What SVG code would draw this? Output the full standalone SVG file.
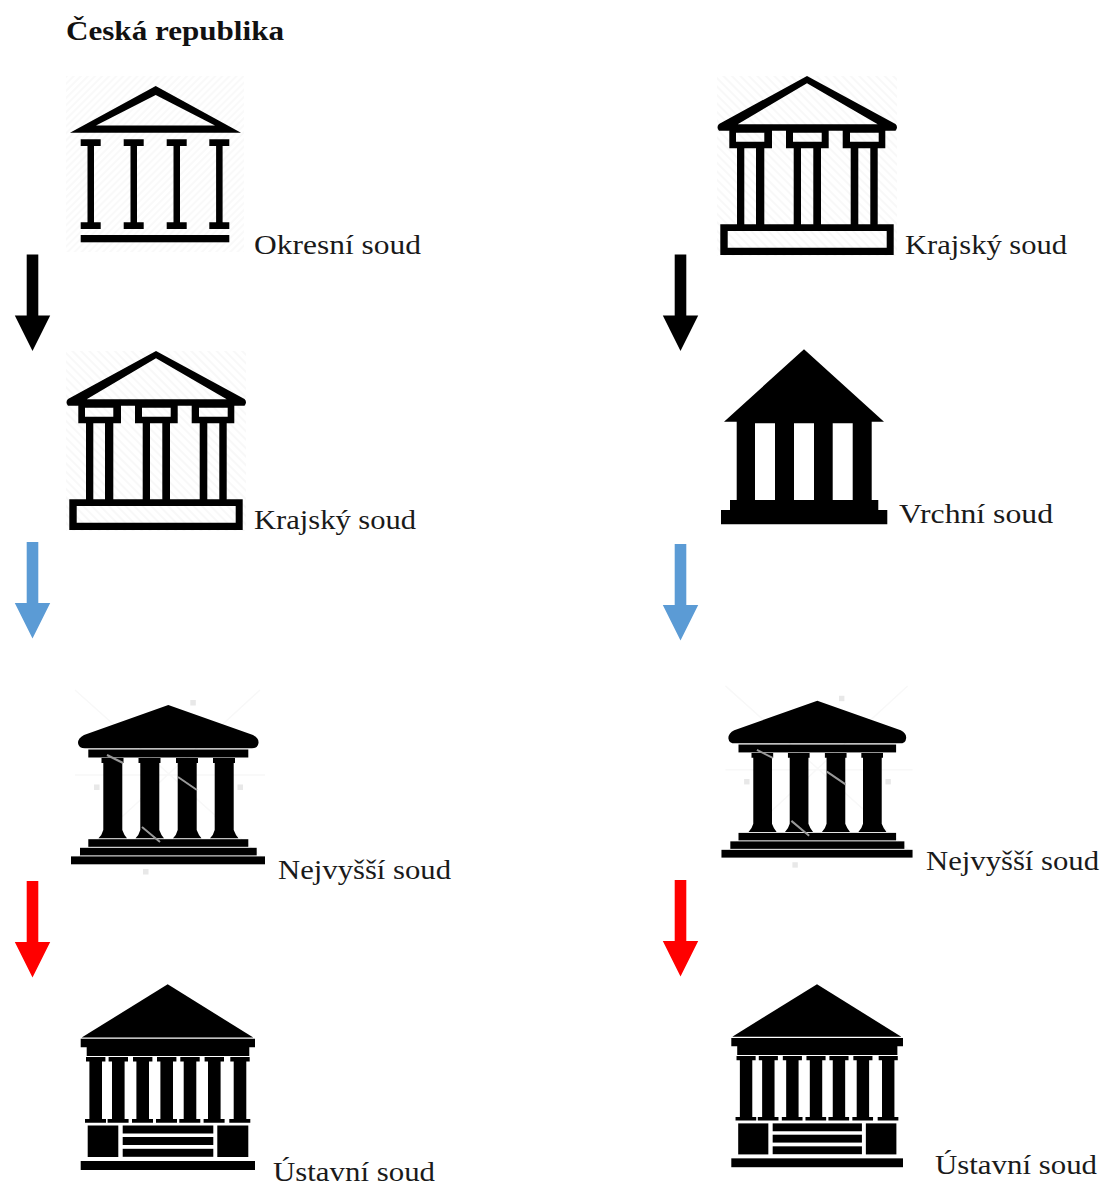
<svg xmlns="http://www.w3.org/2000/svg" xmlns:xlink="http://www.w3.org/1999/xlink" width="1105" height="1185" viewBox="0 0 1105 1185">
<style>
text{font-family:"Liberation Serif","Times New Roman",serif;font-size:28px;fill:#1a1a1a}
.title{font-weight:bold;fill:#111}
.soft{filter:url(#soft)}
.wm{fill:#e8e8e8}
.wl{stroke:#999;stroke-width:2;fill:none}
.wf{stroke:#f8f8f8;stroke-width:1.5;fill:none}
</style>
<defs>
<filter id="soft" x="-5%" y="-5%" width="110%" height="110%"><feGaussianBlur stdDeviation="0.55"/></filter>
<pattern id="hatch" width="5" height="5" patternUnits="userSpaceOnUse" patternTransform="rotate(45)"><rect width="5" height="5" fill="#fff"/><rect width="2" height="5" fill="#f9f9f9"/></pattern>
<pattern id="hatch2" width="6" height="6" patternUnits="userSpaceOnUse" patternTransform="rotate(-45)"><rect width="6" height="6" fill="#fff"/><rect width="2" height="6" fill="#f8f8f8"/></pattern>
<path id="arrow" d="M-5.800 0H5.800V61H17.700L0 96.500L-17.700 61H-5.800Z"/>
<g id="krajsky" class="soft">
<rect x="66" y="351" width="180" height="180" fill="url(#hatch2)"/>
<path fill-rule="evenodd" d="M156 351 L244.500 399 Q247.500 402 244.500 405.700 L68 405.700 Q65 402 68 399 Z M156 358.300 L86.700 399.300 H226.700 Z"/>
<path fill-rule="evenodd" d="M78.300 405H121V423.300H78.300Z M85 407.700V416.700H113.300V407.700Z M135 405H177.700V423.300H135Z M142 407.700V416.700H170.700V407.700Z M191.700 405H234.300V423.300H191.700Z M199 407.700V416.700H227.700V407.700Z"/>
<path d="M86 423H93.300V500H86Z M105 423H113.300V500H105Z M142.700 423H150V500H142.700Z M162.300 423H170V500H162.300Z M199.700 423H207.300V500H199.700Z M219.300 423H226.700V500H219.300Z"/>
<path fill-rule="evenodd" d="M69.300 499.300H242.700V530H69.300Z M76.700 506V522.700H235.700V506Z"/>
</g>
<g id="nejvyssi" class="soft">
<path class="wf" d="M75 690L265 860M260 690L75 860M75 775H265"/>
<rect class="wm" x="190.300" y="700" width="5.500" height="5.500"/><rect class="wm" x="94" y="784.500" width="5.500" height="5.500"/><rect class="wm" x="237.500" y="784.500" width="5.500" height="5.500"/><rect class="wm" x="143" y="869" width="5.500" height="5.500"/>
<path d="M168.300 705 L253 735 Q259 738 258.500 743 Q258 748.300 252 748.300 H85 Q78.500 748.300 78 743 Q78 738 84 735 Z"/>
<rect x="88.300" y="749.500" width="160" height="8"/>
<path d="M101.500 758H123.500V763H122.300V830Q124 835 127 838.300H98.500Q102 835 103.300 830V763H101.500Z"/>
<path d="M138.500 758H160.500V763H159.300V830Q161 835 164 838.300H135.500Q139 835 140.300 830V763H138.500Z"/>
<path d="M176 758H198V763H196.700V830Q198.500 835 201.500 838.300H173Q176.500 835 177.700 830V763H176Z"/>
<path d="M213 758H235V763H233.700V830Q235.500 835 238.500 838.300H210Q213.500 835 214.700 830V763H213Z"/>
<rect x="88.300" y="839.200" width="160" height="7.600"/><rect x="80" y="847.800" width="176.700" height="7.600"/><rect x="71" y="856.400" width="194" height="7.900"/>
<path class="wl" d="M107 755L123 763M178 777L197 790M142 827L160 842"/>
</g>
<g id="ustavni" class="soft">
<path d="M167.700 984.300L253.300 1037.500H81.700Z"/>
<path d="M80.700 1038.800H255V1047.300H249.300V1056H86.700V1047.300H80.700Z"/>
<path d="M86 1057H105.400V1061.500H102V1119H106V1122.700H85V1119H89.400V1061.500H86Z"/>
<path d="M108.600 1057H128V1061.500H124.600V1119H128.600V1122.700H107.600V1119H112V1061.500H108.600Z"/>
<path d="M133 1057H152.400V1061.500H149V1119H153V1122.700H132V1119H136.400V1061.500H133Z"/>
<path d="M157 1057H176.400V1061.500H173V1119H177V1122.700H156V1119H160.400V1061.500H157Z"/>
<path d="M180.300 1057H199.700V1061.500H196.300V1119H200.300V1122.700H179.300V1119H183.700V1061.500H180.300Z"/>
<path d="M204.600 1057H224V1061.500H220.600V1119H224.600V1122.700H203.600V1119H208V1061.500H204.600Z"/>
<path d="M230.300 1057H249.700V1061.500H246.300V1119H250.300V1122.700H229.300V1119H233.700V1061.500H230.300Z"/>
<rect x="87.700" y="1125.500" width="30.600" height="31.500"/><rect x="217.300" y="1125.500" width="31" height="31.500"/>
<rect x="122.700" y="1125.500" width="90.600" height="8"/><rect x="122.700" y="1137" width="90.600" height="8"/><rect x="122.700" y="1148.800" width="90.600" height="8"/>
<rect x="80.700" y="1161" width="174.300" height="9"/>
</g>
</defs>

<g id="title"><text class="title" x="66" y="40" textLength="218" lengthAdjust="spacingAndGlyphs">Česká republika</text></g>

<g id="okresni-soud">
<g class="soft">
<rect x="66" y="76" width="178" height="176" fill="url(#hatch)"/>
<path fill-rule="evenodd" d="M155.700 86L241 132.700H70Z M155.700 95L96 125.500H215Z"/>
<path d="M80.700 139.300H100.700V146H94V222.300H100.700V229H80.700V222.300H87.500V146H80.700Z"/>
<path d="M123.700 139.300H143.700V146H137V222.300H143.700V229H123.700V222.300H130.500V146H123.700Z"/>
<path d="M166.700 139.300H186.700V146H180V222.300H186.700V229H166.700V222.300H173.500V146H166.700Z"/>
<path d="M209.300 139.300H229.300V146H222.600V222.300H229.300V229H209.300V222.300H216.100V146H209.300Z"/>
<rect x="80.700" y="235" width="148.600" height="7.300"/>
</g>
<text x="254" y="254" textLength="167" lengthAdjust="spacingAndGlyphs">Okresní soud</text>
</g>

<g id="krajsky-soud-left">
<use href="#krajsky"/>
<text x="254" y="529" textLength="162" lengthAdjust="spacingAndGlyphs">Krajský soud</text>
</g>

<g id="nejvyssi-soud-left">
<use href="#nejvyssi"/>
<text x="278" y="879" textLength="173" lengthAdjust="spacingAndGlyphs">Nejvyšší soud</text>
</g>

<g id="ustavni-soud-left">
<use href="#ustavni"/>
<text x="273" y="1181" textLength="162" lengthAdjust="spacingAndGlyphs">Ústavní soud</text>
</g>

<g id="krajsky-soud-right">
<use href="#krajsky" transform="translate(651 -275)"/>
<text x="905" y="254" textLength="162" lengthAdjust="spacingAndGlyphs">Krajský soud</text>
</g>

<g id="vrchni-soud">
<g class="soft">
<path fill-rule="evenodd" d="M804 349.300L884 421.700H871.700V500H878.300V510H887.300V524.300H721V510H730V500H736.700V421.700H724Z M755 423.300V500H775V423.300Z M794 423.300V500H814V423.300Z M832.700 423.300V500H852.700V423.300Z"/>
</g>
<text x="899" y="523" textLength="154" lengthAdjust="spacingAndGlyphs">Vrchní soud</text>
</g>

<g id="nejvyssi-soud-right">
<use href="#nejvyssi" transform="translate(817.300 700.700) scale(.985) translate(-168.300 -705)"/>
<text x="926" y="870" textLength="173" lengthAdjust="spacingAndGlyphs">Nejvyšší soud</text>
</g>

<g id="ustavni-soud-right">
<use href="#ustavni" transform="translate(817 984.300) scale(.985) translate(-167.700 -984.300)"/>
<text x="935" y="1174" textLength="162" lengthAdjust="spacingAndGlyphs">Ústavní soud</text>
</g>

<g id="connectors">
<use href="#arrow" transform="translate(32.500 254.500)" fill="#000"/>
<use href="#arrow" transform="translate(680.500 254.500)" fill="#000"/>
<use href="#arrow" transform="translate(32.500 542)" fill="#5b9bd5"/>
<use href="#arrow" transform="translate(680.500 544)" fill="#5b9bd5"/>
<use href="#arrow" transform="translate(32.500 881)" fill="#ff0000"/>
<use href="#arrow" transform="translate(680.500 880)" fill="#ff0000"/>
</g>
</svg>
